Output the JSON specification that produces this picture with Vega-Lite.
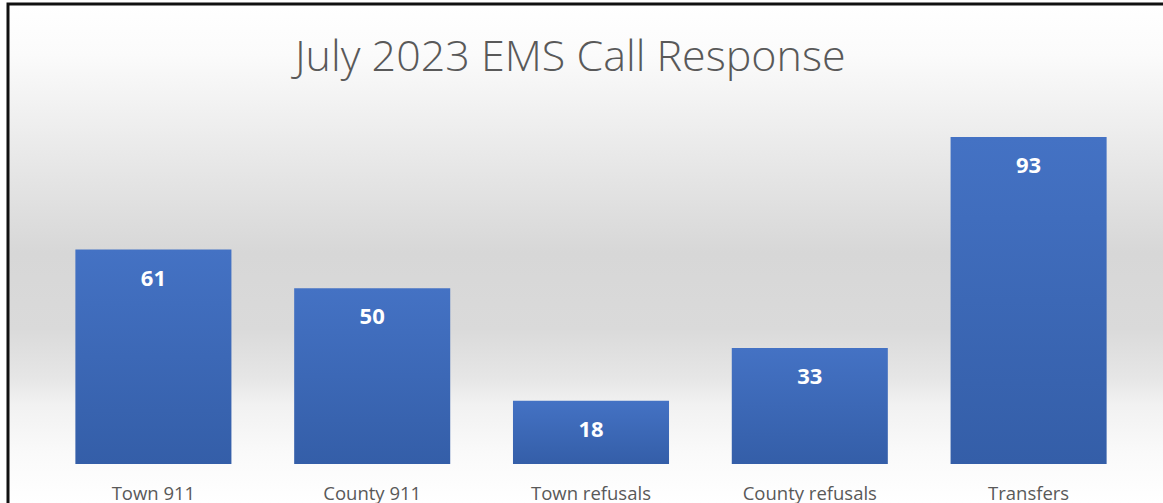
{
  "$schema": "https://vega.github.io/schema/vega-lite/v6.json",
  "autosize": {"type": "none"},
  "padding": {"left": 8, "top": 4, "right": 0, "bottom": 0},
  "width": 1155,
  "height": 499,
  "background": "#ffffff",
  "config": {
    "view": {
      "stroke": "#111111",
      "strokeWidth": 3,
      "strokeDash": [1155, 1654, 499],
      "fill": {
        "gradient": "linear",
        "x1": 0, "y1": 0, "x2": 0, "y2": 1,
        "stops": [
          {"offset": 0, "color": "#ffffff"},
          {"offset": 0.1, "color": "#fbfbfb"},
          {"offset": 0.3, "color": "#e9e9e9"},
          {"offset": 0.5, "color": "#d7d7d7"},
          {"offset": 0.65, "color": "#dadada"},
          {"offset": 0.75, "color": "#e6e6e6"},
          {"offset": 0.8, "color": "#f1f1f1"},
          {"offset": 0.9, "color": "#fafafa"},
          {"offset": 1, "color": "#ffffff"}
        ]
      }
    }
  },
  "title": {
    "text": "July 2023 EMS Call Response",
    "font": "Open Sans",
    "fontWeight": 300,
    "fontSize": 43,
    "color": "#595959",
    "anchor": "start",
    "dx": 287,
    "dy": 76,
    "offset": 0
  },
  "data": {
    "values": [
      {"category": "Town 911", "calls": 61},
      {"category": "County 911", "calls": 50},
      {"category": "Town refusals", "calls": 18},
      {"category": "County refusals", "calls": 33},
      {"category": "Transfers", "calls": 93}
    ]
  },
  "encoding": {
    "x": {
      "field": "category",
      "type": "nominal",
      "sort": null,
      "scale": {"range": [36, 1130], "paddingInner": 0.2868, "paddingOuter": 0.1434},
      "axis": {
        "title": null,
        "offset": -39,
        "domain": false,
        "ticks": false,
        "labelAngle": 0,
        "labelPadding": 20,
        "labelFont": "Open Sans",
        "labelFontSize": 18.5,
        "labelColor": "#595959"
      }
    },
    "y": {
      "field": "calls",
      "type": "quantitative",
      "scale": {"domain": [-11.09, 130.83], "zero": false, "nice": false},
      "axis": null
    }
  },
  "layer": [
    {
      "mark": {
        "type": "bar",
        "fill": {
          "gradient": "linear",
          "x1": 0, "y1": 0, "x2": 0, "y2": 1,
          "stops": [
            {"offset": 0, "color": "#4472c4"},
            {"offset": 1, "color": "#345ea8"}
          ]
        }
      },
      "encoding": {"y2": {"datum": 0}}
    },
    {
      "mark": {
        "type": "text",
        "baseline": "top",
        "dy": 19,
        "font": "Open Sans",
        "fontWeight": "bold",
        "fontSize": 22,
        "fill": "#ffffff"
      },
      "encoding": {"text": {"field": "calls", "type": "quantitative"}}
    }
  ]
}
